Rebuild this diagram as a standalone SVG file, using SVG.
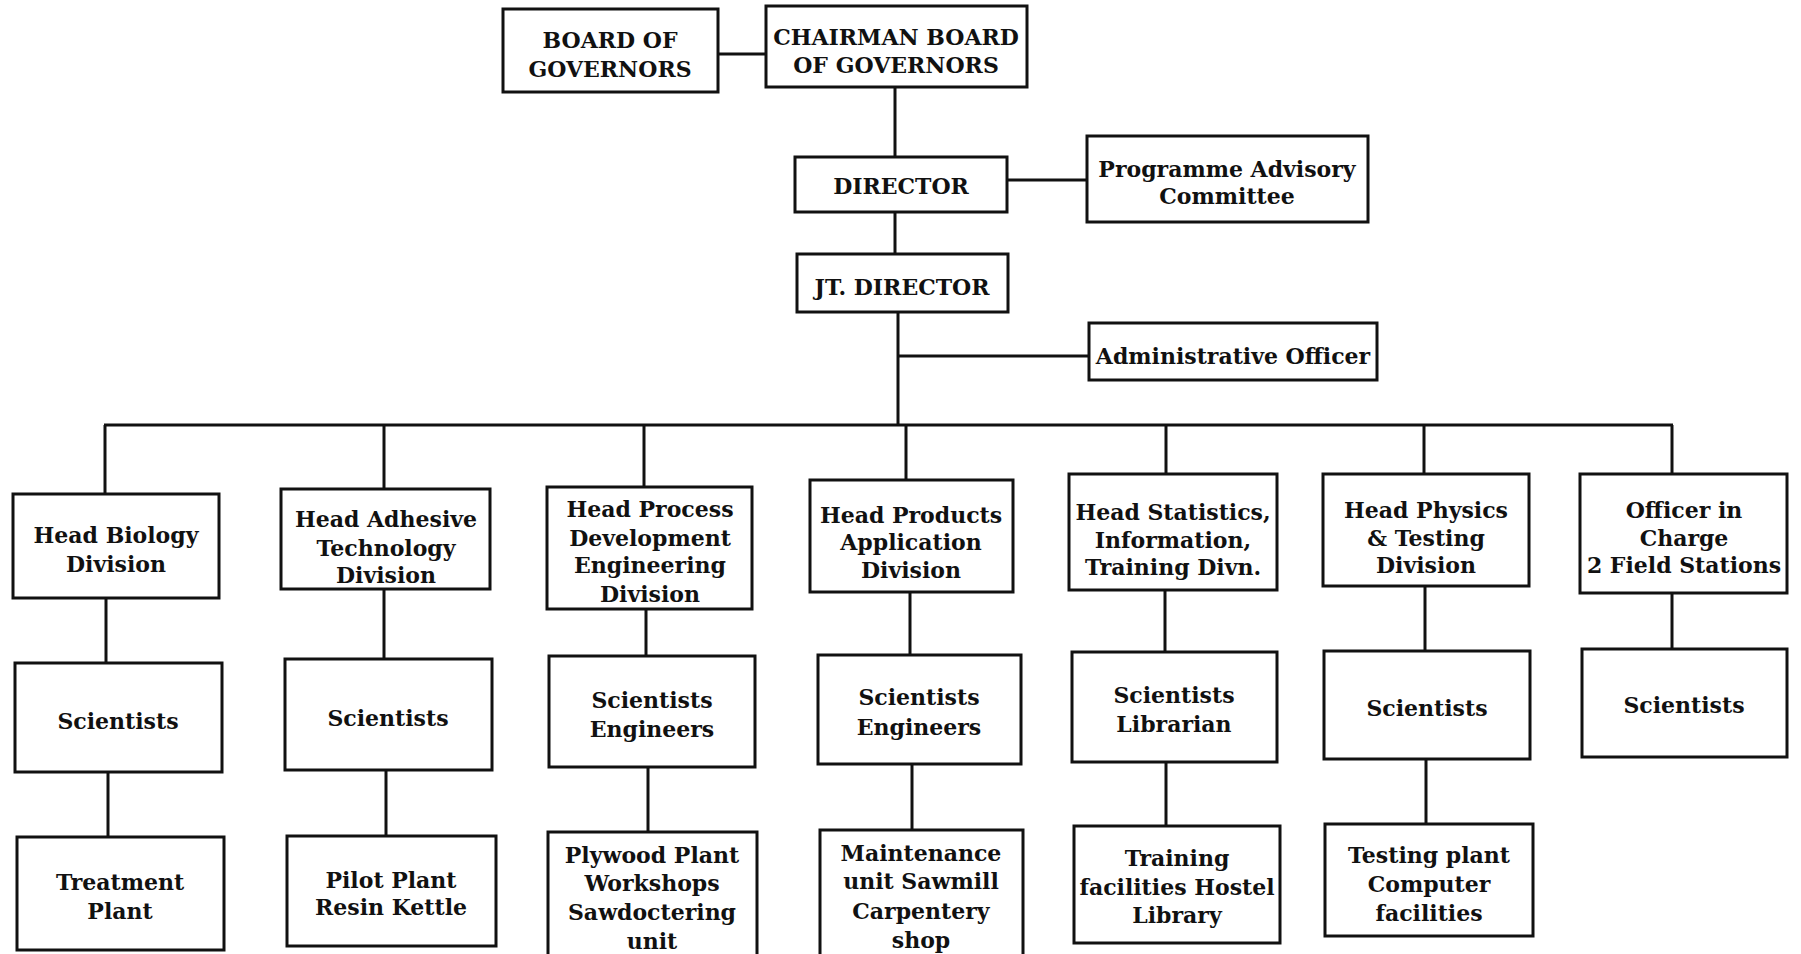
<svg xmlns="http://www.w3.org/2000/svg" width="1801" height="954" viewBox="0 0 1801 954">
<style>
.b{fill:#fff;stroke:#111;stroke-width:3}
.c{fill:none;stroke:#111;stroke-width:3}
text{font-family:"DejaVu Serif","Liberation Serif",serif;font-weight:bold;font-size:22px;fill:#111;text-anchor:middle}
</style>
<rect width="1801" height="954" fill="#fff"/>
<g id="connectors">
<line class="c" x1="718" y1="54" x2="766" y2="54"/>
<line class="c" x1="895" y1="87" x2="895" y2="157"/>
<line class="c" x1="1007" y1="180" x2="1087" y2="180"/>
<line class="c" x1="895" y1="212" x2="895" y2="254"/>
<line class="c" x1="898" y1="312" x2="898" y2="425"/>
<line class="c" x1="898" y1="356" x2="1089" y2="356"/>
<line class="c" x1="104" y1="425" x2="1673" y2="425"/>
<line class="c" x1="105" y1="425" x2="105" y2="494"/>
<line class="c" x1="384" y1="425" x2="384" y2="489"/>
<line class="c" x1="644" y1="425" x2="644" y2="487"/>
<line class="c" x1="906" y1="425" x2="906" y2="480"/>
<line class="c" x1="1166" y1="425" x2="1166" y2="474"/>
<line class="c" x1="1424" y1="425" x2="1424" y2="474"/>
<line class="c" x1="1672" y1="425" x2="1672" y2="474"/>
<line class="c" x1="106" y1="598" x2="106" y2="663"/>
<line class="c" x1="384" y1="589" x2="384" y2="659"/>
<line class="c" x1="646" y1="609" x2="646" y2="656"/>
<line class="c" x1="910" y1="592" x2="910" y2="655"/>
<line class="c" x1="1165" y1="590" x2="1165" y2="652"/>
<line class="c" x1="1425" y1="586" x2="1425" y2="651"/>
<line class="c" x1="1672" y1="593" x2="1672" y2="649"/>
<line class="c" x1="108" y1="772" x2="108" y2="837"/>
<line class="c" x1="386" y1="770" x2="386" y2="836"/>
<line class="c" x1="648" y1="767" x2="648" y2="832"/>
<line class="c" x1="912" y1="764" x2="912" y2="830"/>
<line class="c" x1="1166" y1="762" x2="1166" y2="826"/>
<line class="c" x1="1426" y1="759" x2="1426" y2="824"/>
</g>
<g id="board"><rect class="b" x="503" y="9" width="215" height="83"/><text x="610" y="48">BOARD OF</text><text x="610" y="77">GOVERNORS</text></g>
<g id="chairman"><rect class="b" x="766" y="6" width="261" height="81"/><text x="896" y="45">CHAIRMAN BOARD</text><text x="896" y="73">OF GOVERNORS</text></g>
<g id="director"><rect class="b" x="795" y="157" width="212" height="55"/><text x="901" y="194">DIRECTOR</text></g>
<g id="pac"><rect class="b" x="1087" y="136" width="281" height="86"/><text x="1227" y="177">Programme Advisory</text><text x="1227" y="204">Committee</text></g>
<g id="jtdirector"><rect class="b" x="797" y="254" width="211" height="58"/><text x="902" y="295">JT. DIRECTOR</text></g>
<g id="admin"><rect class="b" x="1089" y="323" width="288" height="57"/><text x="1233" y="364">Administrative Officer</text></g>

<g id="h1"><rect class="b" x="13" y="494" width="206" height="104"/><text x="116" y="543">Head Biology</text><text x="116" y="572">Division</text></g>
<g id="h2"><rect class="b" x="281" y="489" width="209" height="100"/><text x="386" y="527">Head Adhesive</text><text x="386" y="556">Technology</text><text x="386" y="583">Division</text></g>
<g id="h3"><rect class="b" x="547" y="487" width="205" height="122"/><text x="650" y="517">Head Process</text><text x="650" y="546">Development</text><text x="650" y="573">Engineering</text><text x="650" y="602">Division</text></g>
<g id="h4"><rect class="b" x="810" y="480" width="203" height="112"/><text x="911" y="523">Head Products</text><text x="911" y="550">Application</text><text x="911" y="578">Division</text></g>
<g id="h5"><rect class="b" x="1069" y="474" width="208" height="116"/><text x="1173" y="520">Head Statistics,</text><text x="1173" y="548">Information,</text><text x="1173" y="575">Training Divn.</text></g>
<g id="h6"><rect class="b" x="1323" y="474" width="206" height="112"/><text x="1426" y="518">Head Physics</text><text x="1426" y="546">&amp; Testing</text><text x="1426" y="573">Division</text></g>
<g id="h7"><rect class="b" x="1580" y="474" width="207" height="119"/><text x="1684" y="518">Officer in</text><text x="1684" y="546">Charge</text><text x="1684" y="573">2 Field Stations</text></g>

<g id="s1"><rect class="b" x="15" y="663" width="207" height="109"/><text x="118" y="729">Scientists</text></g>
<g id="s2"><rect class="b" x="285" y="659" width="207" height="111"/><text x="388" y="726">Scientists</text></g>
<g id="s3"><rect class="b" x="549" y="656" width="206" height="111"/><text x="652" y="708">Scientists</text><text x="652" y="737">Engineers</text></g>
<g id="s4"><rect class="b" x="818" y="655" width="203" height="109"/><text x="919" y="705">Scientists</text><text x="919" y="735">Engineers</text></g>
<g id="s5"><rect class="b" x="1072" y="652" width="205" height="110"/><text x="1174" y="703">Scientists</text><text x="1174" y="732">Librarian</text></g>
<g id="s6"><rect class="b" x="1324" y="651" width="206" height="108"/><text x="1427" y="716">Scientists</text></g>
<g id="s7"><rect class="b" x="1582" y="649" width="205" height="108"/><text x="1684" y="713">Scientists</text></g>

<g id="f1"><rect class="b" x="17" y="837" width="207" height="113"/><text x="120" y="890">Treatment</text><text x="120" y="919">Plant</text></g>
<g id="f2"><rect class="b" x="287" y="836" width="209" height="110"/><text x="391" y="888">Pilot Plant</text><text x="391" y="915">Resin Kettle</text></g>
<g id="f3"><rect class="b" x="548" y="832" width="209" height="135"/><text x="652" y="863">Plywood Plant</text><text x="652" y="891">Workshops</text><text x="652" y="920">Sawdoctering</text><text x="652" y="949">unit</text></g>
<g id="f4"><rect class="b" x="820" y="830" width="203" height="135"/><text x="921" y="861">Maintenance</text><text x="921" y="889">unit Sawmill</text><text x="921" y="919">Carpentery</text><text x="921" y="948">shop</text></g>
<g id="f5"><rect class="b" x="1074" y="826" width="206" height="117"/><text x="1177" y="866">Training</text><text x="1177" y="895">facilities Hostel</text><text x="1177" y="923">Library</text></g>
<g id="f6"><rect class="b" x="1325" y="824" width="208" height="112"/><text x="1429" y="863">Testing plant</text><text x="1429" y="892">Computer</text><text x="1429" y="921">facilities</text></g>
</svg>
